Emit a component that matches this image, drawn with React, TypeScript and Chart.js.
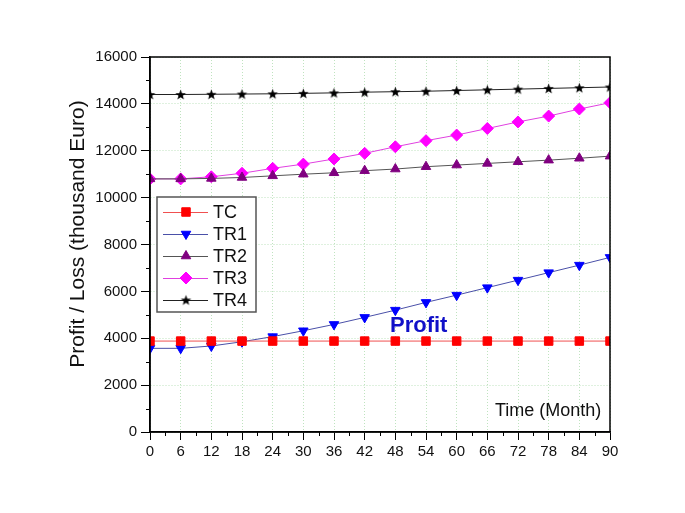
import React, { useEffect, useRef } from "react";
import { Chart, registerables } from "chart.js";
import { drawPoint } from "chart.js/helpers";

Chart.register(...registerables);

const months = [0, 6, 12, 18, 24, 30, 36, 42, 48, 54, 60, 66, 72, 78, 84, 90];
const tcValues = [3880, 3880, 3880, 3880, 3880, 3880, 3880, 3880, 3880, 3880, 3880, 3880, 3880, 3880, 3880, 3880];
const tr1Values = [3570, 3570, 3670, 3850, 4070, 4320, 4590, 4890, 5200, 5530, 5840, 6160, 6480, 6800, 7120, 7450];
const tr2Values = [10800, 10800, 10820, 10860, 10930, 11000, 11060, 11150, 11220, 11320, 11390, 11460, 11530, 11600, 11680, 11770];
const tr3Values = [10800, 10800, 10890, 11040, 11250, 11430, 11650, 11890, 12170, 12430, 12670, 12950, 13230, 13480, 13780, 14050];
const tr4Values = [14400, 14400, 14410, 14420, 14430, 14450, 14470, 14500, 14520, 14540, 14570, 14600, 14630, 14660, 14690, 14720];
const seriesNames = ["TC", "TR1", "TR2", "TR3", "TR4"];
const yTitle = "Profit / Loss (thousand Euro)";
const xTitle = "Time (Month)";
const noteText = "Profit";

const FONT = "'Liberation Sans', Arial, sans-serif";

function makeStar(outer: number, inner: number, color: string) {
  const size = Math.ceil(outer * 2 + 2);
  const c = document.createElement("canvas");
  c.width = size;
  c.height = size;
  const ctx = c.getContext("2d")!;
  const cx = size / 2;
  const cy = size / 2 + 0.5;
  ctx.beginPath();
  for (let i = 0; i < 10; i++) {
    const r = i % 2 === 0 ? outer : inner;
    const a = -Math.PI / 2 + (i * Math.PI) / 5;
    const px = cx + Math.cos(a) * r;
    const py = cy + Math.sin(a) * r;
    if (i === 0) ctx.moveTo(px, py);
    else ctx.lineTo(px, py);
  }
  ctx.closePath();
  ctx.fillStyle = color;
  ctx.fill();
  return c;
}

const extrasPlugin = {
  id: "extras",
  afterDraw(chart: any) {
    const { ctx, chartArea } = chart;
    const { left, right, top, bottom } = chartArea;
    const xs = chart.scales.x;
    const ys = chart.scales.y;
    ctx.save();
    // frame
    ctx.strokeStyle = "#000";
    ctx.lineWidth = 1.5;
    ctx.strokeRect(left, top, right - left, bottom - top);
    // minor ticks
    ctx.lineWidth = 1;
    ctx.beginPath();
    for (let v = 3; v < 90; v += 6) {
      const px = Math.round(xs.getPixelForValue(v)) + 0.5;
      ctx.moveTo(px, bottom);
      ctx.lineTo(px, bottom + 4);
    }
    for (let v = 1000; v < 16000; v += 2000) {
      const py = Math.round(ys.getPixelForValue(v)) + 0.5;
      ctx.moveTo(left, py);
      ctx.lineTo(left - 4, py);
    }
    ctx.stroke();

    // legend
    const bx = 157, by = 197, bw = 99, bh = 115;
    ctx.fillStyle = "#fff";
    ctx.fillRect(bx, by, bw, bh);
    ctx.strokeStyle = "#555";
    ctx.lineWidth = 1.5;
    ctx.strokeRect(bx, by, bw, bh);
    chart.data.datasets.forEach((ds: any, i: number) => {
      const yy = 212 + i * 22;
      ctx.strokeStyle = ds.borderColor;
      ctx.lineWidth = 1;
      ctx.beginPath();
      ctx.moveTo(163, yy + 0.5);
      ctx.lineTo(208, yy + 0.5);
      ctx.stroke();
      ctx.fillStyle = ds.pointBackgroundColor;
      ctx.strokeStyle = ds.pointBorderColor;
      drawPoint(ctx, {
        pointStyle: ds.pointStyle,
        rotation: ds.pointRotation || 0,
        radius: ds.pointRadius,
        borderWidth: ds.pointBorderWidth,
      }, 186, yy);
      ctx.fillStyle = "#111";
      ctx.font = `18px ${FONT}`;
      ctx.textAlign = "left";
      ctx.textBaseline = "middle";
      ctx.fillText(ds.label, 213, yy + 1);
    });

    // y title
    ctx.save();
    ctx.translate(78, 234);
    ctx.rotate(-Math.PI / 2);
    ctx.fillStyle = "#111";
    ctx.font = `21px ${FONT}`;
    ctx.textAlign = "center";
    ctx.textBaseline = "middle";
    ctx.fillText(yTitle, 0, 0);
    ctx.restore();

    // x title inside plot
    ctx.fillStyle = "#111";
    ctx.font = `18px ${FONT}`;
    ctx.textAlign = "left";
    ctx.textBaseline = "alphabetic";
    ctx.fillText(xTitle, 495, 416);

    // Profit note
    ctx.fillStyle = "#1010c8";
    ctx.font = `bold 22px ${FONT}`;
    ctx.fillText(noteText, 390, 332);
    ctx.restore();
  },
};

export default function App() {
  const ref = useRef<HTMLCanvasElement>(null);
  useEffect(() => {
    const star = makeStar(5.5, 2.3, "#000");
    const mk = (vals: number[]) => months.map((m, i) => ({ x: m, y: vals[i] }));
    const chart = new Chart(ref.current!, {
      type: "line",
      data: {
        datasets: [
          {
            label: seriesNames[0], data: mk(tcValues), borderColor: "#f05050", borderWidth: 1,
            pointStyle: "rect", pointRadius: 6, pointBackgroundColor: "#ff0000", pointBorderColor: "#ff0000", pointBorderWidth: 1,
          },
          {
            label: seriesNames[1], data: mk(tr1Values), borderColor: "#4a50a8", borderWidth: 1,
            pointStyle: "triangle", pointRotation: 180, pointRadius: 5.5, pointBackgroundColor: "#0000ff", pointBorderColor: "#0000ff", pointBorderWidth: 1,
          },
          {
            label: seriesNames[2], data: mk(tr2Values), borderColor: "#555555", borderWidth: 1,
            pointStyle: "triangle", pointRadius: 5.5, pointBackgroundColor: "#800080", pointBorderColor: "#800080", pointBorderWidth: 1,
          },
          {
            label: seriesNames[3], data: mk(tr3Values), borderColor: "#e040e0", borderWidth: 1,
            pointStyle: "rectRot", pointRadius: 6, pointBackgroundColor: "#ff00ff", pointBorderColor: "#ff00ff", pointBorderWidth: 1,
          },
          {
            label: seriesNames[4], data: mk(tr4Values), borderColor: "#222222", borderWidth: 1,
            pointStyle: star as any, pointRadius: 6, pointBackgroundColor: "#000", pointBorderColor: "#000", pointBorderWidth: 1,
          },
        ] as any,
      },
      options: {
        animation: false,
        responsive: false,
        devicePixelRatio: 1,
        clip: 0 as any,
        layout: { padding: { top: 57, right: 75, left: 0, bottom: 0 } },
        plugins: { legend: { display: false }, tooltip: { enabled: false } },
        elements: { line: { tension: 0 } },
        scales: {
          x: {
            type: "linear",
            min: 0,
            max: 90,
            afterFit: (s: any) => { s.height = 81; },
            ticks: { stepSize: 6, autoSkip: false, padding: 3, color: "#111", font: { family: FONT, size: 15 }, callback: (v: any) => String(v) },
            grid: { color: "#bfe3bf", tickColor: "#000", tickLength: 8, lineWidth: 1 },
            border: { color: "#000", width: 1.5, dash: [1, 2] },
          },
          y: {
            type: "linear",
            min: 0,
            max: 16000,
            afterFit: (s: any) => { s.width = 150; },
            ticks: { stepSize: 2000, padding: 4, color: "#111", font: { family: FONT, size: 15 }, callback: (v: any) => String(v) },
            grid: { color: "#bfe3bf", tickColor: "#000", tickLength: 9, lineWidth: 1 },
            border: { color: "#000", width: 1.5, dash: [1, 2] },
          },
        },
      },
      plugins: [extrasPlugin],
    });
    return () => chart.destroy();
  }, []);
  return (
    <div style={{ position: "absolute", left: 0, top: 0, width: 685, height: 513, background: "#fff" }}>
      <canvas ref={ref} width={685} height={513} style={{ width: 685, height: 513, display: "block" }} />
    </div>
  );
}
